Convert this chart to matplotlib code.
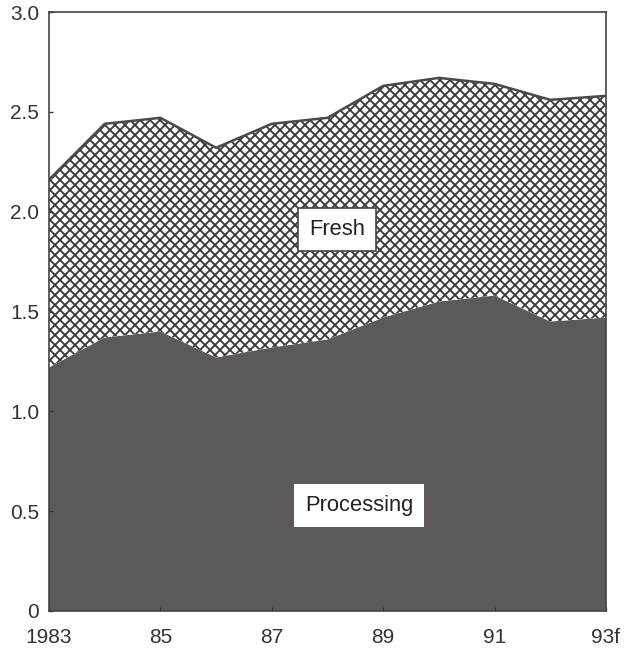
import matplotlib
matplotlib.use("Agg")
import matplotlib.pyplot as plt
import numpy as np

DPI = 120
plt.rcParams['hatch.linewidth'] = 1.1
plt.rcParams['hatch.color'] = '#3a3a3a'
plt.rcParams['font.family'] = ['Liberation Sans', 'DejaVu Sans']

years = [1983, 1984, 1985, 1986, 1987, 1988, 1989, 1990, 1991, 1992, 1993]
processing = [1.22, 1.37, 1.40, 1.27, 1.32, 1.36, 1.47, 1.55, 1.58, 1.45, 1.47]
fresh = [0.94, 1.07, 1.07, 1.05, 1.12, 1.11, 1.16, 1.12, 1.06, 1.11, 1.11]
xtick_vals = [1983, 1985, 1987, 1989, 1991, 1993]
xtick_labels = ["1983", "85", "87", "89", "91", "93f"]
ytick_vals = [0, 0.5, 1.0, 1.5, 2.0, 2.5, 3.0]
ytick_labels = ["0", "0.5", "1.0", "1.5", "2.0", "2.5", "3.0"]

x = np.array(years)
proc = np.array(processing)
total = proc + np.array(fresh)

fig = plt.figure(figsize=(624/DPI, 654/DPI), dpi=DPI)
ax = fig.add_axes([49/624, 43/654, 557/624, 599/654])

ax.fill_between(x, 0, proc, facecolor='#5d5959', edgecolor='none', linewidth=0)
ax.fill_between(x, proc, total, facecolor='white', edgecolor='#3a3a3a',
                hatch='xxxx', linewidth=0)
ax.plot(x, total, color='#4a4a4a', linewidth=1.5, solid_joinstyle='miter')

ax.set_xlim(1983, 1993)
ax.set_ylim(0, 3.0)
ax.set_xticks(xtick_vals)
ax.set_xticklabels(xtick_labels)
ax.set_yticks(ytick_vals)
ax.set_yticklabels(ytick_labels)
ax.tick_params(direction='in', length=2.5, width=0.8, labelsize=12.5,
               colors='#333333')
ax.tick_params(axis='x', pad=10)
ax.tick_params(axis='y', pad=6)
for s in ax.spines.values():
    s.set_color('#444444')
    s.set_linewidth(1.0)

ax.text(1988.17, 1.91, "Fresh", ha='center', va='center', fontsize=13.2,
        color='#222222',
        bbox=dict(boxstyle='square,pad=0.5', facecolor='white',
                  edgecolor='#444444', linewidth=1.0))
ax.text(1988.57, 0.53, "Processing", ha='center', va='center', fontsize=13.2,
        color='#222222',
        bbox=dict(boxstyle='square,pad=0.5', facecolor='white',
                  edgecolor='none'))

fig.savefig("out.png", dpi=DPI)
